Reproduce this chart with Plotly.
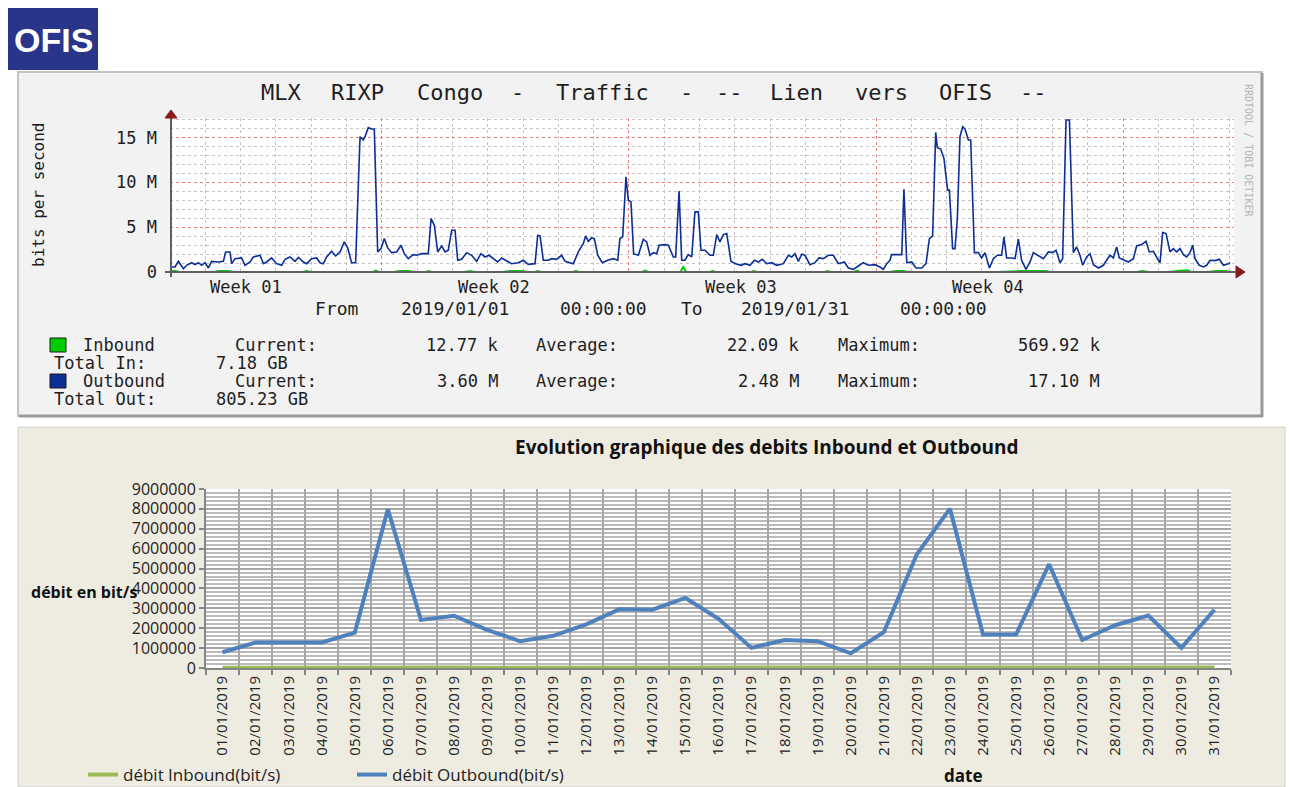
import pandas as pd
import plotly.graph_objects as go

W, H = 1302, 787
MONO = "DejaVu Sans Mono"
SANS = "Open Sans"

# ---- RRD graph: outbound traffic, hours after 2019-01-01 00:00 and Mbit/s
out_hours_a = [0, 3.4, 5.7, 9.1, 11.3, 14.7, 17.0, 19.3, 21.5, 23.8,
               26.1, 28.3, 32.9, 36.3, 37.8, 40.8, 41.9, 44.2, 48.7, 51.0,
               54.4, 56.7, 61.2, 63.5, 65.7, 69.1, 72.5, 75.9, 78.2, 81.6,
               85.0, 87.3, 90.7, 92.9, 96.3, 99.7, 102.0, 104.2, 106.5, 109.9,
               112.6, 115.6, 118.5, 120.8, 123.5, 126.2, 129.2, 131.4, 132.6, 134.8,
               137.1, 138.9, 141.2, 143.5, 145.7, 148.0, 150.7, 154.1, 157.1, 159.3,
               162.0, 165.4, 167.7, 171.1, 175.6, 177.5, 179.7, 182.0, 184.7, 187.0,
               189.2, 191.5, 193.8, 195.6, 198.3, 201.7, 205.1, 208.5, 211.4, 214.2,
               216.9, 219.8, 222.8, 225.5, 228.2, 232.3, 236.8, 240.2, 243.6]
out_mbps_a = [0.56, 0.56, 1.19, 0.37, 0.75, 1.04, 0.82, 1.04, 0.75, 1.04,
              0.45, 1.19, 1.12, 1.19, 2.24, 2.24, 0.93, 1.49, 1.57, 0.75,
              1.12, 1.68, 1.87, 0.93, 1.12, 1.57, 0.93, 0.75, 1.42, 1.68,
              1.19, 1.64, 1.12, 0.93, 1.49, 1.57, 1.04, 0.93, 1.68, 2.31,
              1.79, 2.24, 3.36, 2.69, 1.04, 1.04, 15.11, 14.74, 15.11, 16.12,
              15.97, 15.97, 2.24, 2.61, 3.73, 2.69, 2.16, 2.24, 2.99, 2.05,
              1.49, 1.94, 1.87, 2.05, 2.05, 5.97, 5.22, 2.24, 2.91, 2.24,
              2.43, 4.66, 4.66, 1.31, 1.42, 2.16, 1.87, 1.19, 2.05, 1.68,
              1.87, 1.49, 1.12, 1.57, 1.31, 0.93, 1.04, 1.31, 0.86]

out_hours_b = [248.2, 250.0, 251.6, 253.8, 257.2, 259.5, 262.9, 266.3, 268.6, 274.2,
               277.6, 281.0, 282.6, 284.4, 286.7, 288.5, 290.8, 293.9, 297.6, 301.4,
               304.4, 305.9, 307.8, 310.0, 311.6, 313.4, 315.2, 318.4, 321.8, 324.1,
               326.3, 328.6, 330.9, 332.5, 336.5, 338.8, 342.2, 343.8, 346.1, 347.9,
               350.1, 352.4, 354.7, 356.9, 359.2, 361.0, 363.7, 367.1, 369.4, 371.7,
               373.9, 376.2, 378.5, 381.4, 384.6, 388.2, 390.9, 394.3, 397.3, 400.0,
               402.7, 405.7, 409.1, 412.5, 417.0, 420.4, 422.7, 424.9, 427.2, 429.5,
               431.7, 435.1, 438.5, 441.2, 444.2, 447.6, 451.0, 454.4, 458.5, 461.2,
               464.6, 468.0, 471.4, 474.8, 479.3, 482.7, 485.0, 487.3, 489.5]
out_mbps_b = [0.93, 4.10, 4.03, 1.31, 1.31, 1.49, 1.42, 1.87, 1.19, 0.93,
              2.24, 3.17, 4.03, 3.43, 3.81, 3.73, 1.87, 1.04, 1.31, 1.49,
              1.31, 3.73, 3.92, 10.63, 8.02, 7.84, 2.05, 1.87, 3.66, 3.36,
              1.87, 2.16, 2.05, 2.99, 3.06, 2.99, 1.68, 1.68, 9.03, 1.31,
              1.31, 1.94, 1.68, 6.72, 6.72, 2.43, 2.43, 1.87, 1.87, 4.18,
              3.36, 4.18, 4.29, 1.19, 0.93, 0.75, 0.93, 0.75, 1.31, 1.12,
              1.42, 0.93, 1.04, 0.75, 0.93, 1.87, 1.68, 2.05, 1.19, 1.98,
              1.87, 0.82, 1.04, 1.57, 1.49, 1.87, 1.87, 0.93, 1.12, 0.45,
              0.30, 0.67, 1.04, 0.75, 0.82, 0.56, 0.30, 0.93, 1.31]

out_hours_c = [490.6, 497.5, 499.0, 500.9, 504.3, 507.2, 511.1, 514.0, 516.3, 518.5,
               520.6, 521.7, 524.0, 526.2, 528.7, 529.9, 532.1, 533.7, 535.3, 537.1,
               538.9, 540.5, 542.8, 544.4, 546.9, 549.6, 551.8, 554.1, 557.1, 559.8,
               562.5, 565.4, 567.0, 568.8, 572.2, 574.5, 576.8, 579.0, 582.0, 584.7,
               587.0, 590.4, 593.8, 597.2, 600.1, 602.4, 605.1, 606.9, 609.2, 611.5,
               614.2, 616.4, 618.7, 620.5, 623.2, 625.5, 627.8, 631.2, 634.6, 636.8,
               639.1, 641.4, 643.6, 645.4, 649.3, 651.6, 655.0, 657.2, 660.6, 663.6,
               665.8, 668.6, 671.3, 673.1, 674.9, 677.2, 679.9, 682.2, 684.4, 686.7,
               689.0, 691.2, 693.5, 695.3, 696.9, 699.8, 702.6, 704.8, 707.1, 710.5,
               713.4, 716.2, 719.6, 720.7]
out_mbps_c = [1.94, 1.94, 9.25, 1.04, 1.12, 0.45, 0.45, 0.93, 3.73, 4.03,
              15.60, 13.88, 13.73, 12.69, 9.14, 9.14, 2.61, 2.61, 5.97, 15.11,
              16.23, 15.97, 14.74, 14.74, 2.16, 2.16, 1.57, 2.16, 0.45, 1.49,
              1.87, 1.87, 3.92, 1.57, 1.57, 1.49, 3.66, 1.31, 0.30, 1.12,
              2.16, 1.87, 1.49, 2.24, 2.16, 2.43, 1.04, 1.49, 16.98, 16.98,
              2.16, 2.80, 1.87, 0.75, 1.68, 2.05, 0.82, 0.45, 0.75, 1.31,
              1.87, 1.57, 2.80, 1.57, 1.31, 1.12, 1.49, 2.91, 3.06, 3.43,
              2.24, 2.31, 1.49, 1.04, 4.40, 4.29, 2.24, 2.61, 2.24, 2.61,
              1.94, 1.68, 2.16, 2.99, 1.49, 0.75, 0.56, 0.75, 1.31, 1.27,
              1.42, 0.75, 0.93, 1.04]

# inbound barely leaves the baseline (short green dashes on the axis)
in_hours = [0, 2, 4, 6, 30, 33, 40, 43, 90, 93, 96, 138, 140, 142, 152, 156, 162, 166,
            174, 176, 178, 200, 204, 207, 226, 232, 240, 242, 248, 250, 252, 274, 276,
            278, 321, 323, 325, 347, 349, 351, 367, 369, 371, 395, 397, 399, 445, 447,
            449, 465, 467, 469, 489, 494, 499, 501, 563, 580, 596, 598, 657, 661, 665,
            680, 686, 692, 694, 705, 712, 718, 720]
in_mbps = [0.01, 0.12, 0.12, 0.01, 0.01, 0.12, 0.12, 0.01, 0.01, 0.12, 0.01, 0.01,
           0.15, 0.01, 0.01, 0.12, 0.12, 0.01, 0.01, 0.12, 0.01, 0.01, 0.12, 0.01,
           0.01, 0.12, 0.12, 0.01, 0.01, 0.12, 0.01, 0.01, 0.12, 0.01, 0.01, 0.15,
           0.01, 0.01, 0.57, 0.01, 0.01, 0.12, 0.01, 0.01, 0.12, 0.01, 0.01, 0.12,
           0.01, 0.01, 0.15, 0.01, 0.01, 0.12, 0.12, 0.01, 0.01, 0.12, 0.12, 0.01,
           0.01, 0.12, 0.01, 0.01, 0.15, 0.2, 0.01, 0.01, 0.12, 0.12, 0.01]

week_labels = ["Week 01", "Week 02", "Week 03", "Week 04"]
week_label_at = ["2019-01-03 04:00", "2019-01-10 04:00", "2019-01-17 04:00", "2019-01-24 04:00"]
week_starts = ["2019-01-07", "2019-01-14", "2019-01-21", "2019-01-28"]
rrd_ticks = [0, 5, 10, 15]
rrd_ticktext = ["0", "5 M", "10 M", "15 M"]

# ---- Excel chart: daily rates (bit/s)
days = [f"{d:02d}/01/2019" for d in range(1, 32)]
outbound_daily = [790000, 1280000, 1280000, 1280000, 1780000, 7980000, 2420000, 2630000,
                  1920000, 1350000, 1620000, 2190000, 2950000, 2930000, 3520000, 2470000,
                  1010000, 1410000, 1350000, 740000, 1800000, 5720000, 8010000, 1680000,
                  1680000, 5220000, 1410000, 2150000, 2640000, 1010000, 2930000]
inbound_daily = [15000, 20000, 18000, 22000, 25000, 60000, 45000, 20000, 18000, 15000,
                 20000, 22000, 25000, 35000, 40000, 30000, 20000, 18000, 22000, 15000,
                 20000, 25000, 30000, 22000, 20000, 25000, 18000, 35000, 30000, 25000, 20000]


def px(x):
    return x / W


def py(y):
    return 1 - y / H


start = pd.Timestamp("2019-01-01")


def to_time(hours):
    return start + pd.to_timedelta(hours, unit="h")


out_x = to_time(out_hours_a + out_hours_b + out_hours_c)
out_y = out_mbps_a + out_mbps_b + out_mbps_c

fig = go.Figure()
fig.add_trace(go.Scatter(x=to_time(in_hours), y=in_mbps, mode="lines",
                         line=dict(color="#00cc00", width=2), showlegend=False,
                         xaxis="x", yaxis="y"))
fig.add_trace(go.Scatter(x=out_x, y=out_y, mode="lines",
                         line=dict(color="#0b2f96", width=1.6), showlegend=False,
                         xaxis="x", yaxis="y"))
fig.add_trace(go.Scatter(x=days, y=inbound_daily, mode="lines", name="débit Inbound(bit/s)",
                         line=dict(color="#9bbb59", width=4), xaxis="x2", yaxis="y2"))
fig.add_trace(go.Scatter(x=days, y=outbound_daily, mode="lines", name="débit Outbound(bit/s)",
                         line=dict(color="#4f81bd", width=4), xaxis="x2", yaxis="y2"))

shapes = []


def rect(x0, y0, x1, y1, fill, line="rgba(0,0,0,0)", lw=0, layer="below"):
    shapes.append(dict(type="rect", xref="paper", yref="paper", x0=px(x0), x1=px(x1),
                       y0=py(y1), y1=py(y0), fillcolor=fill, layer=layer,
                       line=dict(color=line, width=lw)))


def seg(x0, y0, x1, y1, color, lw, layer="above"):
    shapes.append(dict(type="line", xref="paper", yref="paper", x0=px(x0), x1=px(x1),
                       y0=py(y0), y1=py(y1), line=dict(color=color, width=lw), layer=layer))


def tri(pts, color):
    d = "M " + " L ".join(f"{px(a):.5f},{py(b):.5f}" for a, b in pts) + " Z"
    shapes.append(dict(type="path", xref="paper", yref="paper", path=d, fillcolor=color,
                       line=dict(color=color, width=1), layer="above"))


# logo and panels
rect(8, 8, 98, 70, "#28358a")
rect(18, 72, 1262, 416, "#f2f2f2", "#c4c4c4", 2)
seg(1262, 73, 1262, 417, "#9a9a9a", 3, "below")
seg(19, 416, 1263, 416, "#9a9a9a", 3, "below")
rect(170, 118, 1234, 272, "#ffffff")
rect(18, 427, 1285, 787, "#eeece1", "#d0d0d0", 1)
rect(206, 489, 1231, 668, "#ffffff")
# rrd axes with arrows
seg(171, 277, 171, 117, "#606060", 2)
seg(165, 272, 1237, 272, "#606060", 2)
tri([(165, 118), (177, 118), (171, 110)], "#8b1a1a")
tri([(1236, 266), (1236, 278), (1245, 272)], "#8b1a1a")
# rrd legend swatches
rect(50, 338, 66, 352, "#00cc00", "#1a1a1a", 1, "above")
rect(50, 374, 66, 388, "#0b2f96", "#1a1a1a", 1, "above")

ann = []


def label(text, x, y, size, family=MONO, color="#1e1e1e", xanchor="left", **kw):
    ann.append(dict(text=text, x=px(x), y=py(y), xref="paper", yref="paper", showarrow=False,
                    xanchor=xanchor, yanchor="middle", font=dict(family=family, size=size, color=color), **kw))


def spread(text, x0, cw, y, size):
    # place every word of a monospaced line at its original column
    idx = 0
    for word in text.split(" "):
        if word:
            label(word, x0 + (idx + len(word) / 2) * cw, y, size, xanchor="center")
        idx += len(word) + 1


label("<b>OFIS</b>", 53, 40, 34, family="Liberation Sans", color="white", xanchor="center")
spread("MLX RIXP Congo - Traffic - -- Lien vers OFIS --", 256, 16.9, 92, 22)
spread("From 2019/01/01 00:00:00 To 2019/01/31 00:00:00", 307, 14.8, 309, 18)
label("bits per second", 38, 195, 16, xanchor="center", textangle=-90)
label("RRDTOOL / TOBI OETIKER", 1249, 150, 10, color="#b4b4b4", xanchor="center", textangle=90)

rrd_rows = [
    (345, [("Inbound", 81, "left"), ("Current:", 233, "left"), ("12.77 k", 500, "right"),
           ("Average:", 534, "left"), ("22.09 k", 801, "right"), ("Maximum:", 836, "left"),
           ("569.92 k", 1102, "right")]),
    (363, [("Total In:", 52, "left"), ("7.18 GB", 214, "left")]),
    (381, [("Outbound", 81, "left"), ("Current:", 233, "left"), ("3.60 M", 500, "right"),
           ("Average:", 534, "left"), ("2.48 M", 801, "right"), ("Maximum:", 836, "left"),
           ("17.10 M", 1102, "right")]),
    (399, [("Total Out:", 52, "left"), ("805.23 GB", 214, "left")]),
]
for yy, pieces in rrd_rows:
    for txt, xx, anc in pieces:
        label(txt, xx, yy, 17, xanchor=anc)

for wl, wx in zip(week_labels, week_label_at):
    ann.append(dict(text=wl, x=wx, y=py(287), xref="x", yref="paper", showarrow=False,
                    xanchor="center", yanchor="middle",
                    font=dict(family=MONO, size=17, color="#1e1e1e")))

label("<b>Evolution graphique des debits Inbound et Outbound</b>", 766, 447, 19,
      family=SANS, color="#111", xanchor="center")
label("<b>débit en bit/s</b>", 29, 592, 16, family=SANS, color="#111")
label("<b>date</b>", 963, 775, 17, family=SANS, color="#111", xanchor="center")

fig.update_layout(
    width=W, height=H, autosize=False,
    margin=dict(l=0, r=0, t=0, b=0, pad=0, autoexpand=False),
    paper_bgcolor="white", plot_bgcolor="rgba(0,0,0,0)",
    shapes=shapes, annotations=ann,
    xaxis=dict(domain=[px(170), px(1234)], type="date",
               range=["2019-01-01 00:00", "2019-01-31 03:24"],
               tickmode="array", tickvals=week_starts, showticklabels=False, ticks="",
               showgrid=True, gridcolor="#f08080", griddash="dot", gridwidth=1,
               minor=dict(dtick=86400000, tick0="2019-01-01", showgrid=True,
                          gridcolor="#c4c4c4", griddash="dot", gridwidth=1),
               zeroline=False, showline=False),
    yaxis=dict(domain=[py(272), py(118)], range=[0, 17.2],
               tickmode="array", tickvals=rrd_ticks, ticktext=rrd_ticktext,
               tickfont=dict(family=MONO, size=17, color="#1e1e1e"), ticklabelstandoff=12,
               showgrid=True, gridcolor="#f08080", griddash="dot", gridwidth=1,
               minor=dict(dtick=1, tick0=0, showgrid=True, gridcolor="#c4c4c4",
                          griddash="dot", gridwidth=1),
               zeroline=False, showline=False, ticks=""),
    xaxis2=dict(domain=[px(206), px(1231)], anchor="y2", type="category",
                range=[-0.5, 30.5], tickangle=-90, tickson="boundaries",
                ticks="outside", ticklen=5, tickcolor="#868686", tickwidth=2,
                showgrid=True, gridcolor="#a6a6a6", gridwidth=2,
                showline=True, linecolor="#868686", linewidth=2,
                tickfont=dict(family=SANS, size=15, color="#222")),
    yaxis2=dict(domain=[py(668), py(489)], anchor="x2", range=[0, 9000000],
                dtick=1000000, tickformat="d", ticks="outside", ticklen=5,
                tickcolor="#868686", tickwidth=2,
                showgrid=True, gridcolor="#a6a6a6", gridwidth=2,
                minor=dict(dtick=200000, showgrid=True, gridcolor="#bcbcbc", gridwidth=2),
                showline=True, linecolor="#868686", linewidth=2, zeroline=False,
                tickfont=dict(family=SANS, size=16, color="#222")),
    legend=dict(orientation="h", x=px(83), y=py(775), xanchor="left", yanchor="middle",
                bgcolor="rgba(0,0,0,0)", entrywidth=224, entrywidthmode="pixels",
                font=dict(family=SANS, size=17, color="#222")),
)

fig.write_html("out.html", config={"displayModeBar": False},
               post_script="document.body.style.margin='0';")
